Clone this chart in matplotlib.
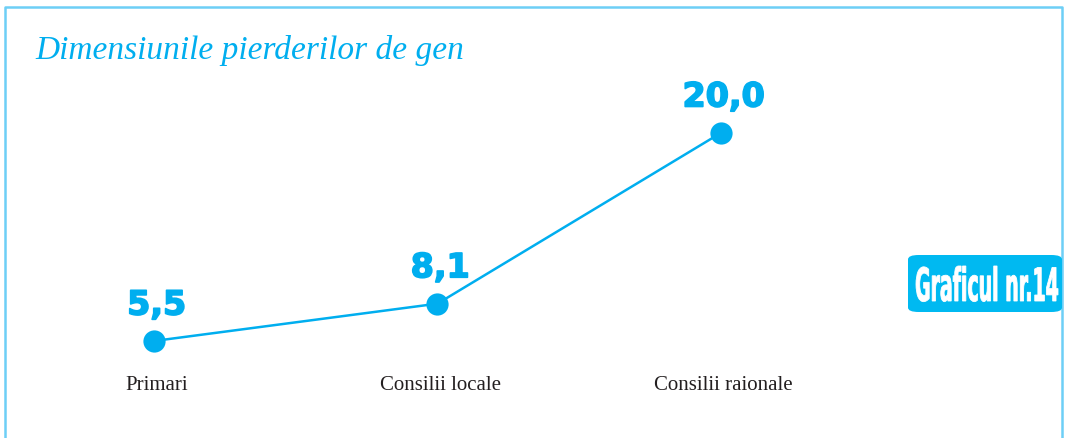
import matplotlib.pyplot as plt
import matplotlib.patheffects as pe
from matplotlib.patches import FancyBboxPatch, PathPatch
from matplotlib.lines import Line2D
from matplotlib.textpath import TextPath
from matplotlib.font_manager import FontProperties
from matplotlib.transforms import Affine2D

categories = ['Primari', 'Consilii locale', 'Consilii raionale']
values = [5.5, 8.1, 20.0]
value_labels = ['5,5', '8,1', '20,0']
title = 'Dimensiunile pierderilor de gen'
badge = 'Graficul nr.14'

blue = '#00aeef'
frame_blue = '#6dcff6'
W, H = 1069, 439

fig = plt.figure(figsize=(W / 100, H / 100), dpi=100)
ax = fig.add_axes([0, 0, 1, 1])
ax.set_xlim(-0.543, 3.228)
ax.set_ylim(-1.26, 29.33)
ax.axis('off')

x = list(range(len(categories)))
ax.plot(x, values, color=blue, linewidth=1.8, marker='o', markersize=16,
        markeredgewidth=0, zorder=3)

for xi, v, lab in zip(x, values, value_labels):
    ax.annotate(lab, (xi, v), xytext=(2, 19), textcoords='offset points',
                ha='center', va='baseline', color=blue, fontsize=24,
                fontweight='bold', family='DejaVu Sans',
                path_effects=[pe.withStroke(linewidth=1.2, foreground=blue)])
    ax.annotate(categories[xi], (xi, values[0]), xytext=(2, -31),
                textcoords='offset points', ha='center', va='center',
                color='#231f20', fontsize=15, family='Liberation Serif')

# frame (left, top, right)
fig.add_artist(Line2D([5 / W, 5 / W, 1062 / W, 1062 / W],
                      [0, 1 - 8 / H, 1 - 8 / H, 0],
                      transform=fig.transFigure, color=frame_blue, linewidth=1.8))

fig.text(35 / W, 1 - 50 / H, title, color=blue, fontsize=24,
         style='italic', family='Liberation Serif', va='center', ha='left')

# badge
bx0, by0, bx1, by1 = 908 / W, 1 - 313 / H, 1062 / W, 1 - 256 / H
fig.add_artist(FancyBboxPatch((bx0, by0), bx1 - bx0, by1 - by0,
                              boxstyle='round,pad=0,rounding_size=0.01',
                              transform=fig.transFigure, facecolor='#00b9f1',
                              edgecolor='none', zorder=5))

# condensed badge text: squeeze a bold text path to fit the box
tp = TextPath((0, 0), badge, size=10,
              prop=FontProperties(family='DejaVu Sans', weight='bold'))
ext = tp.get_extents()
tx0, tx1, ty_base, ty_top = 916, 1058, 302, 267  # pixel box (top-left origin)
sx = (tx1 - tx0) / ext.width
sy = (ty_base - ty_top) / ext.y1
tr = (Affine2D().translate(-ext.x0, 0).scale(sx, sy)
      .translate(tx0, H - ty_base))
fig.add_artist(PathPatch(tr.transform_path(tp), facecolor='white',
                         edgecolor='white', linewidth=0.6,
                         transform=None, zorder=6))

fig.savefig('out.png', dpi=100, facecolor='white')
